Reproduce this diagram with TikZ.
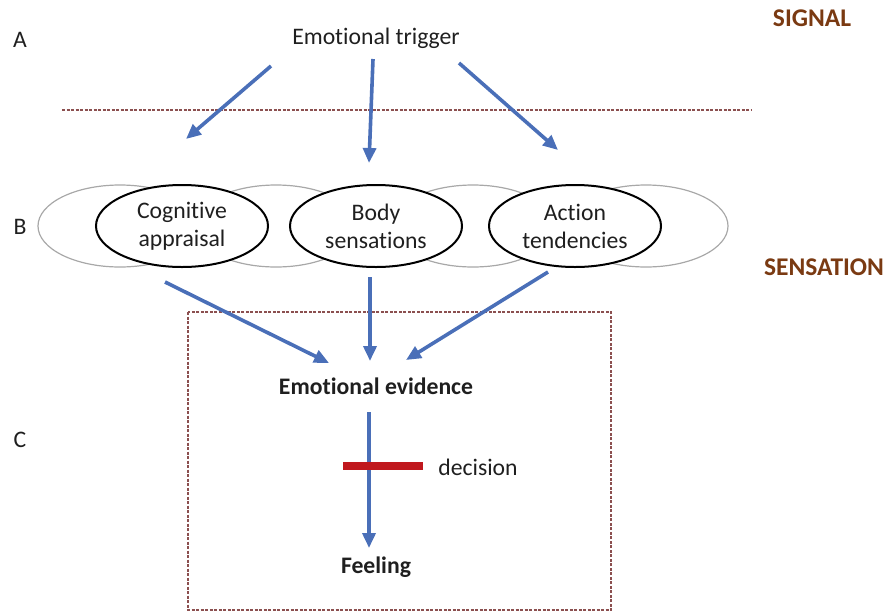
\documentclass[tikz,border=0pt]{standalone}
\usepackage{fontspec}
\setmainfont{Carlito}[Ligatures=NoCommon]
\usetikzlibrary{shapes.geometric,arrows.meta}
\definecolor{arrowblue}{HTML}{4A6FB8}
\definecolor{brownlbl}{HTML}{7A3A12}
\definecolor{dashbrown}{HTML}{8C5050}
\definecolor{greyell}{HTML}{A8A8A8}
\definecolor{barred}{HTML}{C0181E}
\tikzset{
  txt/.style={font=\fontsize{23.7}{28}\selectfont, text=black!88, inner sep=0pt, align=center},
  btxt/.style={txt, font=\fontsize{23.7}{28}\selectfont\bfseries},
  lbl/.style={font=\fontsize{25.5}{28}\selectfont\bfseries, text=brownlbl, inner sep=0pt},
  greyellipse/.style={draw=greyell, line width=1.2pt, ellipse, minimum width=164pt, minimum height=82pt, inner sep=0pt},
  blackellipse/.style={draw=black, line width=2pt, fill=white, ellipse, minimum width=172pt, minimum height=82pt, inner sep=0pt, txt},
  bluearrow/.style={draw=arrowblue, line width=3.6pt, -{Triangle[length=15pt,width=13pt]}},
  sepline/.style={draw=dashbrown, line width=1.3pt, dash pattern=on 3pt off 1.5pt},
}
\begin{document}
\begin{tikzpicture}[x=1pt,y=-1pt]
\useasboundingbox (0,0) rectangle (890,611);
% labels
\node[txt] (la) at (20,40) {A};
\node[txt] (lb) at (20,227) {B};
\node[txt] (lc) at (20,440) {C};
\node[lbl] (signal) at (812,18) {SIGNAL};
\node[lbl] (sensation) at (824,267) {SENSATION};
% trigger
\node[txt] (trig) at (376,38) {Emotional trigger};
% separator
\coordinate (sepL) at (62,110);
\coordinate (sepR) at (752,110);
\draw[sepline] (sepL) -- (sepR);
% grey ellipses
\node[greyellipse] (g1) at (120,226) {};
\node[greyellipse] (g2) at (276,226) {};
\node[greyellipse] (g3) at (473,226) {};
\node[greyellipse] (g4) at (646,226) {};
% black ellipses
\node[blackellipse] (cog) at (182,226) {Cognitive\\appraisal};
\node[blackellipse] (body) at (376,226) {Body\\sensations};
\node[blackellipse] (act) at (575,226) {Action\\tendencies};
% box
\coordinate (boxNW) at (188,312);
\coordinate (boxSE) at (611,610);
\draw[sepline] (boxNW) rectangle (boxSE);
% evidence etc
\node[btxt] (evid) at (376,386) {Emotional evidence};
\node[btxt] (feel) at (376,567) {Feeling};
\node[txt] (dec) at (478,467) {decision};
% arrow endpoints
\coordinate (t1s) at (271,66);  \coordinate (t1e) at (186,139);
\coordinate (t2s) at (373,59);  \coordinate (t2e) at (369,163);
\coordinate (t3s) at (459,63);  \coordinate (t3e) at (558,150);
\coordinate (e1s) at (165,282); \coordinate (e1e) at (329,363);
\coordinate (e2s) at (370,277); \coordinate (e2e) at (370,361);
\coordinate (e3s) at (548,272); \coordinate (e3e) at (406,360);
\coordinate (fs) at (369,412);  \coordinate (fe) at (369,548);
\draw[bluearrow] (t1s) -- (t1e);
\draw[bluearrow] (t2s) -- (t2e);
\draw[bluearrow] (t3s) -- (t3e);
\draw[bluearrow] (e1s) -- (e1e);
\draw[bluearrow] (e2s) -- (e2e);
\draw[bluearrow] (e3s) -- (e3e);
\draw[bluearrow] (fs) -- (fe);
% decision bar
\coordinate (barL) at (343,466);
\coordinate (barR) at (423,466);
\draw[barred, line width=8pt] (barL) -- (barR);
\end{tikzpicture}
\end{document}
